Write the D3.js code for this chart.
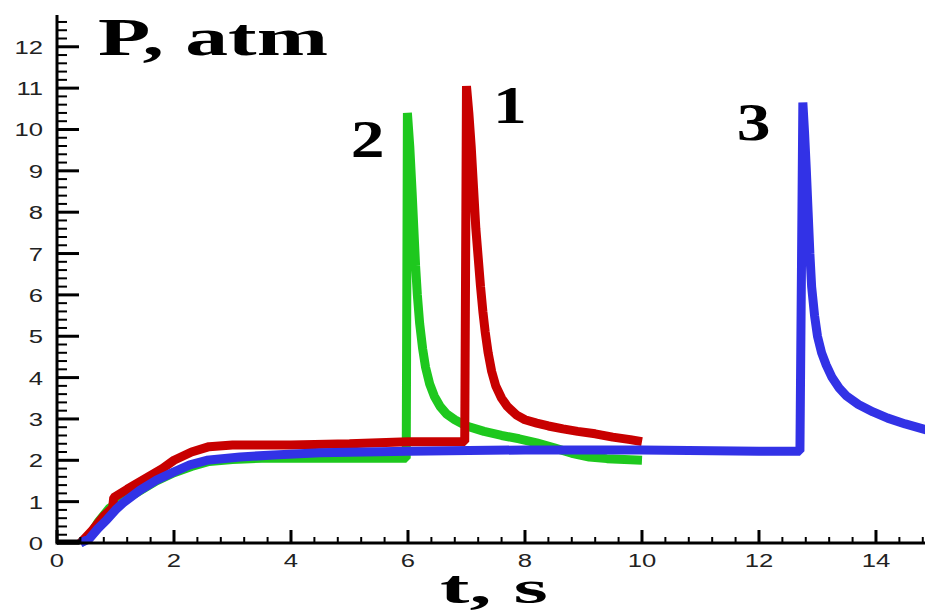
<!DOCTYPE html>
<html><head><meta charset="utf-8">
<script src="https://cdn.jsdelivr.net/npm/d3@7"></script>
<style>body{margin:0;background:#fff}svg{display:block}</style>
</head><body><svg id="c" width="925" height="614"></svg>
<script>
// ---- data ----
const xTicks = [0, 2, 4, 6, 8, 10, 12, 14];
const yTicks = [0,1,2,3,4,5,6,7,8,9,10,11,12];

const t1 = [0.4,0.6,0.8,0.95,0.97,1.2,1.5,1.8,2.0,2.3,2.6,3.0,4.0,5.0,6.0,6.97,7.0,7.04,7.08,7.12,7.16,7.2,7.24,7.28,7.32,7.37,7.43,7.5,7.6,7.7,7.85,8.0,8.2,8.4,8.65,8.9,9.2,9.5,9.8,10.0];
const p1 = [0,0.3,0.65,0.85,1.1,1.3,1.55,1.8,2.0,2.2,2.33,2.37,2.37,2.4,2.45,2.45,11.05,10.4,9.6,8.6,7.6,6.9,6.2,5.6,5.1,4.6,4.15,3.8,3.5,3.3,3.1,2.98,2.9,2.83,2.76,2.7,2.64,2.56,2.5,2.45];

const t2 = [0.4,0.55,0.7,0.9,1.1,1.4,1.7,2.0,2.3,2.6,3.0,3.5,4.0,5.0,5.97,5.99,6.03,6.07,6.1,6.13,6.16,6.2,6.25,6.3,6.37,6.45,6.55,6.66,6.8,7.0,7.3,7.6,7.9,8.2,8.5,8.8,9.1,9.4,9.7,10.0];
const p2 = [0,0.15,0.5,0.85,1.0,1.25,1.5,1.7,1.85,1.97,2.02,2.05,2.05,2.05,2.05,10.4,9.6,8.5,7.6,6.7,6.0,5.3,4.7,4.25,3.85,3.55,3.3,3.12,2.98,2.83,2.7,2.6,2.52,2.42,2.3,2.17,2.08,2.04,2.02,2.0];

const t3 = [0.4,0.55,0.7,0.85,1.0,1.13,1.42,1.7,2.0,2.27,2.56,3.13,3.7,4.5,6,8,10,12,12.7,12.75,12.78,12.81,12.84,12.87,12.9,12.95,13.0,13.07,13.15,13.25,13.37,13.5,13.7,13.95,14.2,14.5,14.9];
const p3 = [0,0.1,0.35,0.56,0.8,0.97,1.28,1.52,1.72,1.89,2.0,2.08,2.13,2.18,2.22,2.25,2.25,2.22,2.22,10.65,9.9,9.0,8.0,7.0,6.2,5.5,5.0,4.6,4.3,4.0,3.75,3.55,3.35,3.17,3.02,2.88,2.72];

const seriesNames = ["2","1","3"];
const seriesColors = ["#1ec81e","#c80000","#3232e6"];

// ---- chart ----
const svg = d3.select("#c");
const x = d3.scaleLinear().domain([0, 14.85]).range([57, 925.7]);
const y = d3.scaleLinear().domain([0, 12.72]).range([543, 17]);

const series = [
  {t: t2, p: p2, c: seriesColors[0]},
  {t: t1, p: p1, c: seriesColors[1]},
  {t: t3, p: p3, c: seriesColors[2]}
];

const line = d3.line().x(d => x(d[0])).y(d => y(d[1]));
const g = svg.append("g");
series.forEach(s => {
  g.append("path")
    .datum(s.t.map((v,i) => [v, s.p[i]]))
    .attr("d", line)
    .attr("fill","none")
    .attr("stroke", s.c)
    .attr("stroke-width", 9)
    .attr("stroke-linejoin","bevel");
});

// axes
const minorX = d3.range(0, 14.85, 0.4).filter(v => Math.abs(v/2 - Math.round(v/2)) > 0.01);
const minorY = d3.range(0, 12.71, 0.2).filter(v => Math.abs(v - Math.round(v)) > 0.01);
const ax = svg.append("g");
ax.append("line").attr("x1",57).attr("x2",925).attr("y1",y(0)).attr("y2",y(0)).attr("stroke","#000").attr("stroke-width",3);
ax.append("line").attr("x1",57).attr("x2",57).attr("y1",15).attr("y2",y(0)+1.5).attr("stroke","#000").attr("stroke-width",3);
ax.append("line").attr("x1",57).attr("x2",x(0.4)).attr("y1",y(0)-1).attr("y2",y(0)-1).attr("stroke","#000").attr("stroke-width",5);

ax.selectAll(".mx").data(minorX).enter().append("line")
  .attr("x1",d=>x(d)).attr("x2",d=>x(d)).attr("y1",y(0)).attr("y2",y(0)-6)
  .attr("stroke","#000").attr("stroke-width",2);
ax.selectAll(".Mx").data(xTicks).enter().append("line")
  .attr("x1",d=>x(d)).attr("x2",d=>x(d)).attr("y1",y(0)).attr("y2",y(0)-13)
  .attr("stroke","#000").attr("stroke-width",3);
ax.selectAll(".my").data(minorY).enter().append("line")
  .attr("x1",57).attr("x2",67).attr("y1",d=>y(d)).attr("y2",d=>y(d))
  .attr("stroke","#000").attr("stroke-width",2);
ax.selectAll(".My").data(yTicks).enter().append("line")
  .attr("x1",57).attr("x2",79).attr("y1",d=>y(d)).attr("y2",d=>y(d))
  .attr("stroke","#000").attr("stroke-width",3);

const tickFont = "'Liberation Sans', Arial, sans-serif";
ax.selectAll(".lx").data(xTicks).enter().append("text")
  .attr("transform", d => `translate(${x(d)},567) scale(1.35,1)`)
  .attr("text-anchor","middle")
  .style("font-family", tickFont).style("font-size","19px").attr("fill","#222")
  .text(d => d);
ax.selectAll(".ly").data(yTicks).enter().append("text")
  .attr("transform", d => `translate(43,${y(d)+7}) scale(1.35,1)`)
  .attr("text-anchor","end")
  .style("font-family", tickFont).style("font-size","19px").attr("fill","#222")
  .text(d => d);

const serif = "'Liberation Serif', 'Times New Roman', Times, serif";
svg.append("text").attr("x",98).attr("y",55)
  .attr("textLength",230).attr("lengthAdjust","spacingAndGlyphs")
  .style("font-family",serif).style("font-weight","bold").style("font-size","52px")
  .text("P, atm");
svg.append("text").attr("x",440).attr("y",603)
  .attr("textLength",108).attr("lengthAdjust","spacingAndGlyphs")
  .style("font-family",serif).style("font-weight","bold").style("font-size","46px")
  .text("t, s");

const labelPos = [[5.31, 9.34], [7.74, 10.16], [11.91, 9.75]];
seriesNames.forEach((n,i) => {
  svg.append("text")
    .attr("transform", `translate(${x(labelPos[i][0])},${y(labelPos[i][1])}) scale(1.3,1)`)
    .attr("text-anchor","middle")
    .style("font-family",serif).style("font-weight","bold").style("font-size","52px")
    .text(n);
});
</script></body></html>
